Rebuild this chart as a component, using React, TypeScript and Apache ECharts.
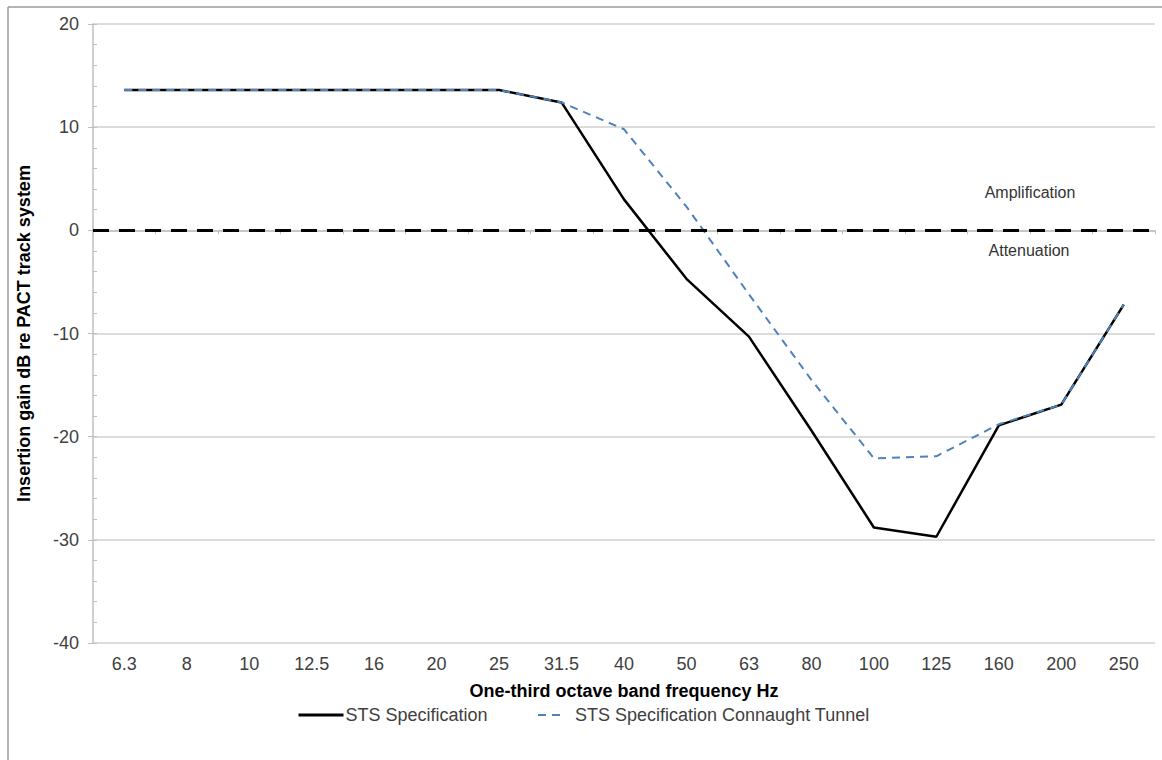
import React, { useEffect, useRef } from "react";
import * as echarts from "echarts";

const categories = ["6.3", "8", "10", "12.5", "16", "20", "25", "31.5", "40", "50", "63", "80", "100", "125", "160", "200", "250"];
const stsSpecification = [13.6, 13.6, 13.6, 13.6, 13.6, 13.6, 13.6, 12.4, 3.0, -4.7, -10.3, -19.4, -28.8, -29.7, -18.9, -16.9, -7.2];
const stsConnaught = [13.6, 13.6, 13.6, 13.6, 13.6, 13.6, 13.6, 12.4, 9.8, 2.3, -6.2, -14.5, -22.1, -21.9, -18.8, -16.9, -7.2];
const seriesNames = ["STS Specification", "STS Specification Connaught Tunnel"];
const yTitle = "Insertion gain dB re PACT track system";
const xTitle = "One-third octave band frequency Hz";
const annotations = ["Amplification", "Attenuation"];

const FONT = "'Liberation Sans', Arial, sans-serif";
const LABEL = "#404040";

export default function App() {
  const ref = useRef<HTMLDivElement>(null);
  useEffect(() => {
    if (!ref.current) return;
    const chart = echarts.init(ref.current, undefined, { renderer: "svg" });
    chart.setOption({
      animation: false,
      backgroundColor: "#ffffff",
      textStyle: { fontFamily: FONT },
      grid: { left: 93, right: 7, top: 24, bottom: 117, containLabel: false },
      legend: [
        {
          data: [seriesNames[0]],
          left: 292,
          top: 701,
          itemWidth: 45,
          itemHeight: 14,
          itemStyle: { opacity: 0 },
          lineStyle: { width: 3 },
          textStyle: { fontFamily: FONT, fontSize: 18, color: LABEL, padding: [0, 0, 0, -3] },
        },
        {
          data: [seriesNames[1]],
          left: 532,
          top: 701,
          itemWidth: 24,
          itemHeight: 14,
          itemStyle: { opacity: 0 },
          textStyle: { fontFamily: FONT, fontSize: 18, color: LABEL, padding: [0, 0, 0, 8] },
        },
      ],
      xAxis: {
        type: "category",
        data: categories,
        boundaryGap: true,
        name: xTitle,
        nameLocation: "middle",
        nameGap: 39,
        nameTextStyle: { fontFamily: FONT, fontSize: 18, fontWeight: "bold", color: "#000" },
        axisLine: { lineStyle: { color: "#bfbfbf", width: 1.5 } },
        axisTick: { show: true, alignWithLabel: false, length: 4, lineStyle: { color: "#bfbfbf" } },
        axisLabel: { fontFamily: FONT, fontSize: 18, color: LABEL, margin: 12, interval: 0 },
        splitLine: { show: false },
      },
      yAxis: [
        {
          type: "value",
          min: -40,
          max: 20,
          interval: 10,
          name: yTitle,
          nameLocation: "middle",
          nameGap: 60,
          nameRotate: 90,
          nameTextStyle: { fontFamily: FONT, fontSize: 18, fontWeight: "bold", color: "#000" },
          axisLine: { show: true, lineStyle: { color: "#bfbfbf", width: 1.5 } },
          axisTick: { show: true, length: 5, lineStyle: { color: "#bfbfbf" } },
          axisLabel: { fontFamily: FONT, fontSize: 18, color: LABEL, margin: 14 },
          splitLine: { show: true, lineStyle: { color: "#d0d0d0", width: 1.5 } },
        },
        {
          type: "value",
          min: -40,
          max: 20,
          interval: 2,
          position: "left",
          axisLine: { show: false },
          axisTick: { show: true, inside: true, length: 4, lineStyle: { color: "#bfbfbf" } },
          axisLabel: { show: false },
          splitLine: { show: false },
        },
      ],
      series: [
        {
          name: seriesNames[0],
          type: "line",
          data: stsSpecification,
          symbol: "none",
          lineStyle: { color: "#000000", width: 2.5 },
          itemStyle: { color: "#000000" },
          z: 2,
          markLine: {
            silent: true,
            symbol: "none",
            label: { show: false },
            lineStyle: { color: "#000000", width: 3, type: [16, 10] },
            data: [{ yAxis: 0 }],
          },
        },
        {
          name: seriesNames[1],
          type: "line",
          data: stsConnaught,
          symbol: "none",
          lineStyle: { color: "#4F81BD", width: 2, type: [8, 6] },
          itemStyle: { color: "#4F81BD" },
          z: 3,
        },
      ],
      graphic: [
        { type: "line", shape: { x1: 8, y1: 7, x2: 1162, y2: 7 }, style: { stroke: "#9a9a9a", lineWidth: 1.5 } },
        { type: "line", shape: { x1: 8, y1: 7, x2: 8, y2: 760 }, style: { stroke: "#9a9a9a", lineWidth: 1.5 } },
        {
          type: "text",
          x: 1030,
          y: 192,
          style: { text: annotations[0], fontFamily: FONT, fontSize: 16, fill: "#333", textAlign: "center", textVerticalAlign: "middle" },
        },
        {
          type: "text",
          x: 1029,
          y: 250,
          style: { text: annotations[1], fontFamily: FONT, fontSize: 16, fill: "#333", textAlign: "center", textVerticalAlign: "middle" },
        },
      ],
    });
    return () => chart.dispose();
  }, []);
  return <div ref={ref} style={{ position: "fixed", left: 0, top: 0, width: 1162, height: 760 }} />;
}
